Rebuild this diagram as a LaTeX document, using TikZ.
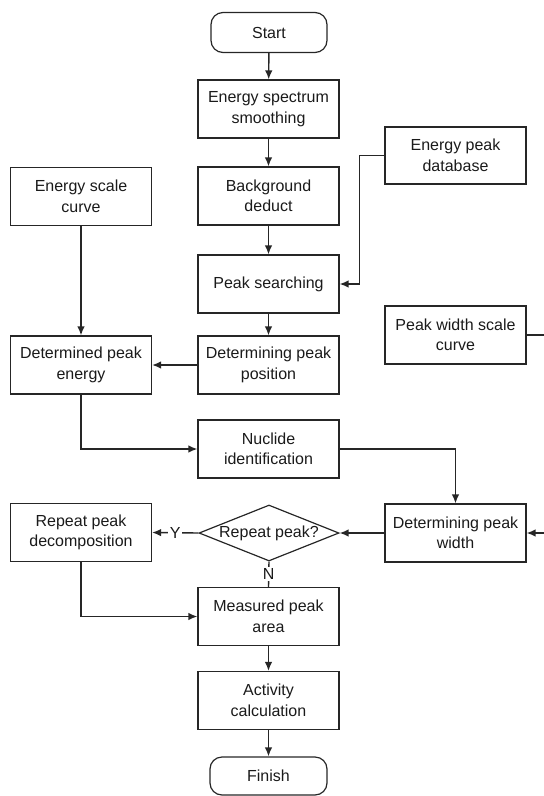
\documentclass[tikz,border=0pt]{standalone}
\usepackage{fontspec}
\setmainfont{Liberation Sans}
\usetikzlibrary{arrows.meta,shapes.geometric}
\definecolor{ink}{HTML}{1A1A1A}
\definecolor{edge}{HTML}{262626}
\tikzset{
  base/.style={draw=edge, line width=1.2pt, text=ink, align=center, inner sep=0pt,
    font=\fontsize{16}{20.5}\selectfont},
  box/.style={base, rectangle, minimum width=141pt, minimum height=58pt},
  term/.style={base, rectangle, rounded corners=12pt, minimum width=116pt, minimum height=40pt},
  decision/.style={base, diamond, aspect=2.5, minimum width=140pt, minimum height=56pt, inner sep=0pt},
  conn/.style={draw=edge, line width=1.4pt},
  arr/.style={conn, -{Latex[length=9pt,width=7.5pt]}},
  lbl/.style={fill=white, text=ink, inner sep=1.5pt, font=\fontsize{16}{18}\selectfont}
}
\begin{document}
\begin{tikzpicture}[x=1pt,y=-1pt]
\useasboundingbox (0,0) rectangle (544,796);
% main column
\node[term] (start) at (269,32.5) {Start};
\node[box] (smooth) at (268.5,109) {Energy spectrum\\smoothing};
\node[box] (bg) at (268.5,196) {Background\\deduct};
\node[box] (search) at (268.5,284) {Peak searching};
\node[box] (pos) at (268.5,365) {Determining peak\\position};
\node[box] (nuc) at (268.5,449) {Nuclide\\identification};
\node[decision] (dia) at (269,533) {Repeat peak?};
\node[box] (meas) at (268.5,616.5) {Measured peak\\area};
\node[box] (act) at (268.5,700.5) {Activity\\calculation};
\node[term, minimum width=117pt, minimum height=38pt] (finish) at (268.5,776) {Finish};
% left column
\node[box] (escale) at (81,196.5) {Energy scale\\curve};
\node[box] (penergy) at (81,365) {Determined peak\\energy};
\node[box] (rep) at (81,532.5) {Repeat peak\\decomposition};
% right column
\node[box, minimum height=57pt] (db) at (455.5,155.5) {Energy peak\\database};
\node[box] (pwscale) at (455.5,335) {Peak width scale\\curve};
\node[box] (pwidth) at (455.5,533) {Determining peak\\width};
% connectors
\draw[arr] (start) -- (smooth);
\draw[arr] (smooth) -- (bg);
\draw[arr] (bg) -- (search);
\draw[arr] (search) -- (pos);
\draw[arr] (pos) -- (penergy);
\draw[arr] (escale) -- (penergy);
\draw[arr] (penergy.south) |- (nuc.west);
\draw[arr] (nuc.east) -| (pwidth.north);
\draw[arr] (db.west) -- ++(-25,0) |- (search.east);
\draw[arr] (pwscale.east) -- ++(25,0) |- (pwidth.east);
\draw[arr] (pwidth) -- (dia);
\draw[arr] (dia.west) -- node[lbl] {Y} (rep.east);
\draw[conn] (dia.south) -- node[lbl] {N} (meas.north);
\draw[arr] (rep.south) |- (meas.west);
\draw[arr] (meas) -- (act);
\draw[arr] (act) -- (finish);
\end{tikzpicture}
\end{document}
